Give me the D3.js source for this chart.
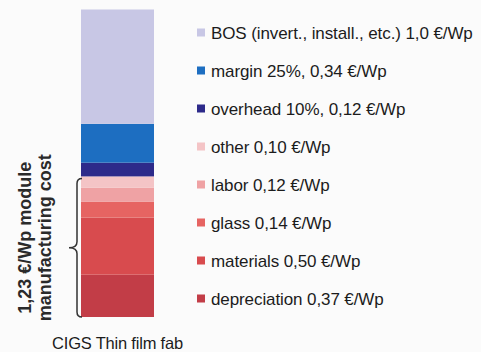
<!DOCTYPE html>
<html>
<head>
<meta charset="utf-8">
<script src="https://cdn.jsdelivr.net/npm/d3@7"></script>
<style>
  html, body { margin: 0; padding: 0; background: #fbfbfb; }
  svg { display: block; font-family: "Liberation Sans", Arial, sans-serif; }
</style>
</head>
<body>
<svg id="chart" width="481" height="352"></svg>
<script>
// Cost components of a CIGS thin-film fab, stacked bottom to top (€/Wp)
const categories = ["CIGS Thin film fab"];
const components = ["depreciation", "materials", "glass", "labor", "other", "overhead", "margin", "BOS"];
const values = [0.37, 0.50, 0.14, 0.12, 0.10, 0.12, 0.34, 1.0];
const colors = ["#c23d47", "#d84b4e", "#e66462", "#efa2a4", "#f4c4c6", "#2d2a8a", "#1d6ec1", "#c8c7e5"];

// Legend entries, listed top to bottom
const legendKeys = ["BOS", "margin", "overhead", "other", "labor", "glass", "materials", "depreciation"];
const legendLabels = [
  "BOS (invert., install., etc.) 1,0 €/Wp",
  "margin 25%, 0,34 €/Wp",
  "overhead 10%, 0,12 €/Wp",
  "other 0,10 €/Wp",
  "labor 0,12 €/Wp",
  "glass 0,14 €/Wp",
  "materials 0,50 €/Wp",
  "depreciation 0,37 €/Wp"
];

// Components that make up the module manufacturing cost
const manufacturingKeys = ["depreciation", "materials", "glass", "labor", "other"];
const braceLines = ["1,23 €/Wp module", "manufacturing cost"];

const svg = d3.select("#chart");

const row = {};
components.forEach((k, i) => row[k] = values[i]);
row.category = categories[0];
const series = d3.stack().keys(components)([row]);
const total = d3.sum(values);

const x = d3.scaleBand().domain(categories).range([81, 154]).padding(0);
const y = d3.scaleLinear().domain([0, total]).range([317, 9.5]);
const color = d3.scaleOrdinal().domain(components).range(colors);

// Stacked bar
svg.append("g").selectAll("rect")
  .data(series)
  .join("rect")
  .attr("x", x(categories[0]))
  .attr("width", x.bandwidth())
  .attr("y", d => y(d[0][1]))
  .attr("height", d => y(d[0][0]) - y(d[0][1]))
  .attr("fill", d => color(d.key));

// Category label under the bar
svg.append("text")
  .attr("x", x(categories[0]) + x.bandwidth() / 2)
  .attr("y", 349)
  .attr("text-anchor", "middle")
  .attr("font-size", 16.5)
  .attr("letter-spacing", -0.2)
  .attr("fill", "#1c1c1c")
  .text(categories[0]);

// Curly brace spanning the manufacturing cost
const mfgTotal = d3.sum(manufacturingKeys, k => values[components.indexOf(k)]);
const bTop = y(mfgTotal) + 2;
const bBot = y(0);
const bMid = (bTop + bBot) / 2;
const bx = 77;
const brace = d3.path();
brace.moveTo(bx + 5, bTop);
brace.quadraticCurveTo(bx, bTop, bx, bTop + 5);
brace.lineTo(bx, bMid - 6);
brace.quadraticCurveTo(bx, bMid, bx - 8, bMid);
brace.quadraticCurveTo(bx, bMid, bx, bMid + 6);
brace.lineTo(bx, bBot - 5);
brace.quadraticCurveTo(bx, bBot, bx + 5, bBot);
svg.append("path")
  .attr("d", brace.toString())
  .attr("fill", "none")
  .attr("stroke", "#333")
  .attr("stroke-width", 1.5);

// Rotated annotation next to the brace
const ann = svg.append("text")
  .attr("transform", `translate(31,${bMid - 10}) rotate(-90)`)
  .attr("text-anchor", "middle")
  .attr("font-size", 18)
  .attr("font-weight", "bold")
  .attr("fill", "#2a2a2a");
braceLines.forEach((t, i) => {
  ann.append("tspan")
    .attr("x", 0)
    .attr("dy", i === 0 ? 0 : 20)
    .text(t);
});

// Legend
const legend = svg.append("g").selectAll("g")
  .data(legendKeys)
  .join("g")
  .attr("transform", (d, i) => `translate(197,${32.5 + i * 38})`);
legend.append("rect")
  .attr("x", 0).attr("y", -4)
  .attr("width", 8).attr("height", 8)
  .attr("fill", d => color(d));
legend.append("text")
  .attr("x", 14)
  .attr("y", 0)
  .attr("dy", "0.36em")
  .attr("font-size", 17)
  .attr("letter-spacing", -0.1)
  .attr("fill", "#1c1c1c")
  .text((d, i) => legendLabels[i]);
</script>
</body>
</html>
